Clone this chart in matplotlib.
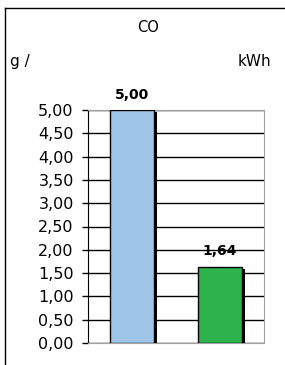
import matplotlib
matplotlib.use("Agg")
import matplotlib.pyplot as plt
import matplotlib.transforms as mtransforms
from matplotlib.lines import Line2D

plt.rcParams['font.family'] = ['DejaVu Sans']

categories = ["A", "B"]
values = [5.00, 1.64]
colors = ["#9fc6e9", "#2cb34c"]
yticks = [0, 0.5, 1, 1.5, 2, 2.5, 3, 3.5, 4, 4.5, 5]

W, H = 285, 365
fig = plt.figure(figsize=(W / 100, H / 100), dpi=100)
ax = fig.add_axes([88 / W, 22 / H, 176 / W, 233 / H])

x = list(range(len(categories)))

# shadow behind each bar
shadow = ax.transData + mtransforms.ScaledTranslation(3 / 100, -2 / 100, fig.dpi_scale_trans)
ax.bar(x, values, width=0.5, color="black", transform=shadow, zorder=2)
ax.bar(x, values, width=0.5, color=colors, edgecolor="black", linewidth=1, zorder=3)

for xi, v in zip(x, values):
    ax.annotate(f"{v:.2f}".replace(".", ","), (xi, v), xytext=(0, 8), textcoords="offset points",
                ha="center", va="baseline", fontsize=10, fontweight="bold", zorder=4)

ax.set_xlim(-0.5, 1.5)
ax.set_ylim(0, 5)
ax.set_yticks(yticks)
ax.set_yticklabels([f"{t:.2f}".replace(".", ",") for t in yticks], fontsize=11.5)
ax.set_xticks([])
ax.yaxis.grid(True, color="black", linewidth=1)
ax.set_axisbelow(True)
ax.tick_params(axis="y", length=4.3, width=1, color="black", pad=6)

for s in ["top", "right", "bottom"]:
    ax.spines[s].set_color("#a0a0a0")
ax.spines["left"].set_color("black")

fig.text(148 / W, 1 - 27 / H, "CO", ha="center", va="center", fontsize=10.5)
fig.text(10 / W, 1 - 66 / H, "g /", ha="left", va="baseline", fontsize=11)
fig.text(271 / W, 1 - 66 / H, "kWh", ha="right", va="baseline", fontsize=11)

# outer frame: top and left
fig.add_artist(Line2D([5 / W, 1], [1 - 8 / H, 1 - 8 / H], color="black", linewidth=1, transform=fig.transFigure))
fig.add_artist(Line2D([5 / W, 5 / W], [0, 1 - 8 / H], color="black", linewidth=1, transform=fig.transFigure))

fig.savefig("out.png", dpi=100)
